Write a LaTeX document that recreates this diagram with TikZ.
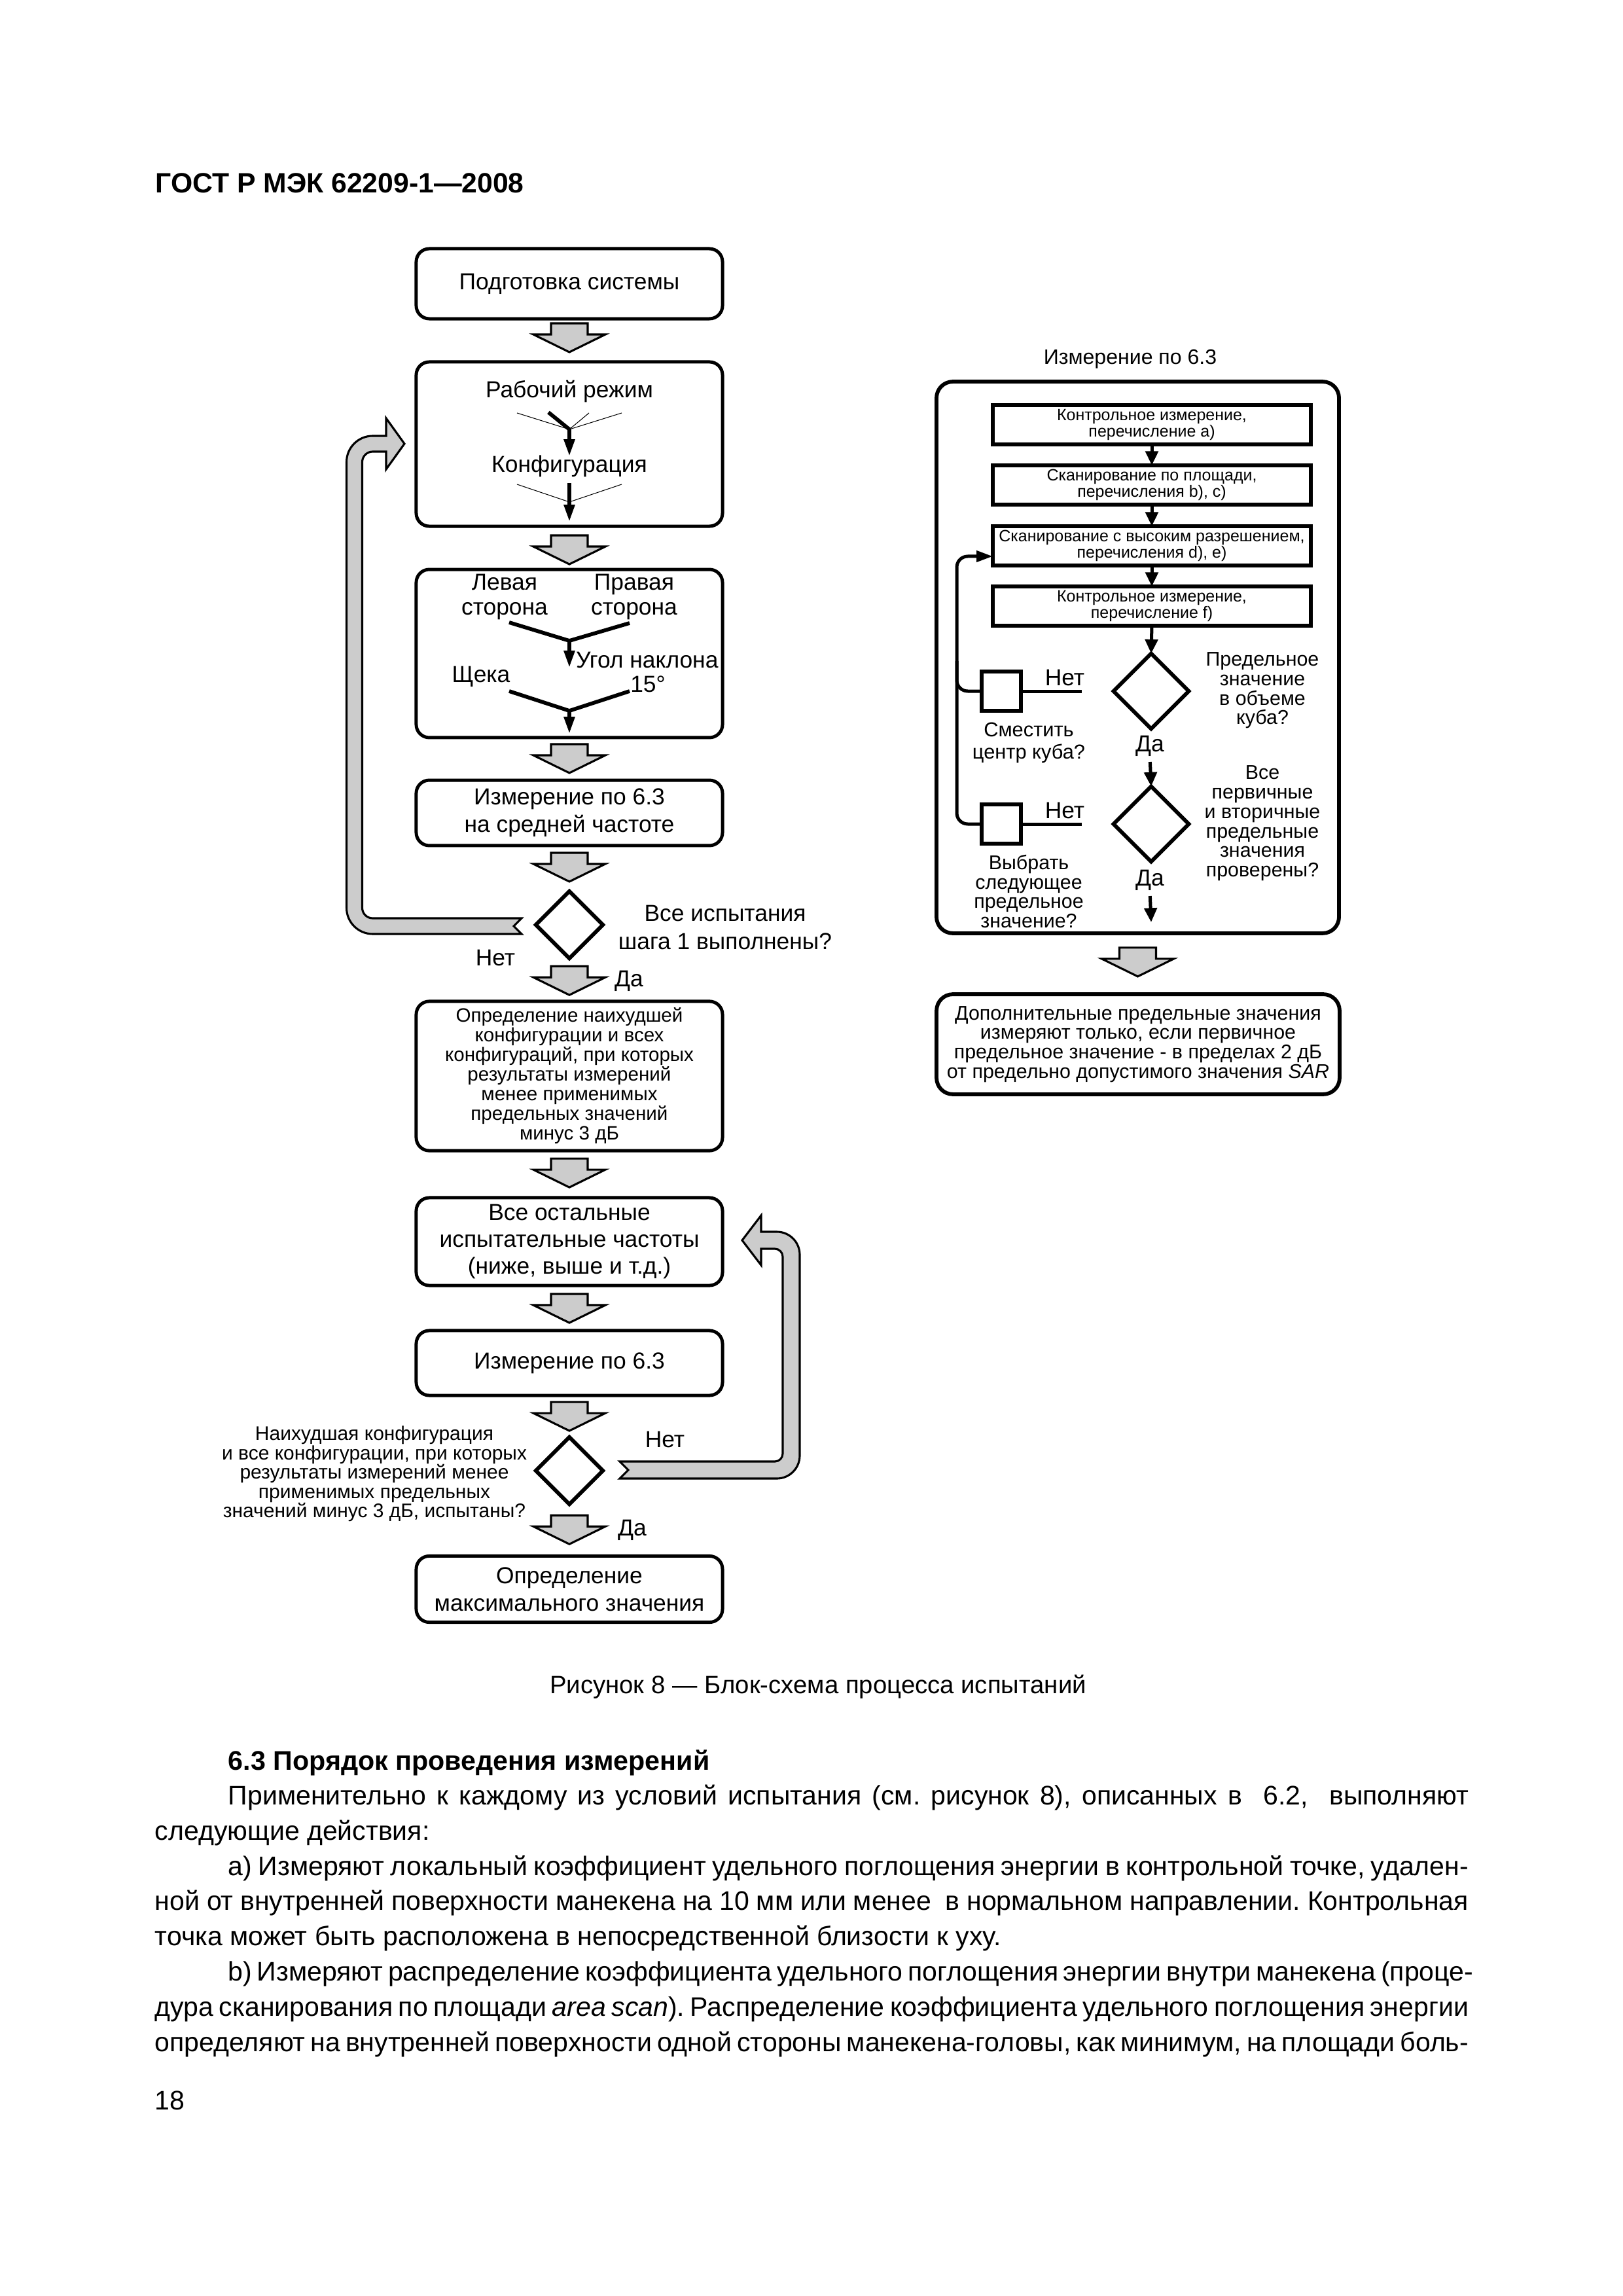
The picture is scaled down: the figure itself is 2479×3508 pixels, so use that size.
\documentclass[tikz,border=0pt]{standalone}
\usepackage{fontspec}
\setmainfont{Liberation Sans}
\usetikzlibrary{shapes.geometric,arrows.meta,calc}
\frenchspacing
\newcommand\FontMain{\fontsize{8.5pt}{10.1pt}\selectfont}
\newcommand\FontSmall{\fontsize{7.1pt}{7.2pt}\selectfont}
\newcommand\FontLbl{\fontsize{7.3pt}{7.15pt}\selectfont}
\newcommand\FontTiny{\fontsize{6.0pt}{6pt}\selectfont}
\newcommand\FontBody{\fontsize{9.85pt}{11.5pt}\selectfont}
\newcommand\fatarrow[1]{\filldraw[fat] #1 ++(-28,0) -- ++(0,17) -- ++(-27,0) -- ++(55,27) -- ++(55,-27) -- ++(-27,0) -- ++(0,-17) -- cycle;}
\begin{document}
\begin{tikzpicture}[x=0.24014pt,y=-0.24014pt,
  box/.style={draw,line width=1.2pt,rounded corners=4.8pt,minimum width=112.4pt,inner sep=0pt,outer sep=0pt,align=center,font=\FontMain},
  rbox/.style={draw,line width=1.4pt,rounded corners=6pt,inner sep=0pt,outer sep=0pt,align=center},
  srect/.style={draw,line width=1.4pt,minimum width=116.7pt,minimum height=14.4pt,inner sep=0pt,outer sep=0pt,align=center,font=\FontTiny},
  dia/.style={draw,diamond,line width=1.4pt,aspect=1,inner sep=0pt,outer sep=0pt},
  sq/.style={draw,line width=1.3pt,minimum width=14.4pt,minimum height=14.4pt,inner sep=0pt,outer sep=0pt},
  txt/.style={inner sep=0pt,outer sep=0pt,align=center},
  fat/.style={fill=black!20,draw=black,line width=0.75pt,line join=miter},
  thinln/.style={line width=0.25pt},
  thickln/.style={line width=1.4pt},
  thickarr/.style={line width=1.4pt,-{Triangle[length=6.2pt,width=3.8pt]}},
  smallarr/.style={line width=1.2pt,-{Triangle[length=5.2pt,width=4.6pt]}},
  ln/.style={line width=1.2pt},
  body/.style={anchor=base west,inner sep=0pt,font=\FontBody}]
\fill[white] (0,0) rectangle (2479,3508);
\useasboundingbox (0,0) rectangle (2479,3508);

% header
\node[anchor=base west,inner sep=0pt,font=\bfseries\fontsize{10.25pt}{12pt}\selectfont] (hdr) at (237,295) {ГОСТ Р МЭК 62209-1—2008};

% ---------------- left column ----------------
\node[box,minimum height=25.7pt] (b1) at (870,433.5) {Подготовка системы};
\fatarrow{($(b1.south)+(0,7)$)}

\node[box,minimum height=60.3pt] (b2) at (870,678.5) {};
\node[txt,font=\FontMain] (rr) at (870,598) {Рабочий режим};
\node[txt,font=\FontMain] (kf) at (870,712) {Конфигурация};
\coordinate (j1) at (870,656);
\coordinate (t1a) at (790,631); \coordinate (t1b) at (900,631); \coordinate (t1c) at (950,631);
\coordinate (k1) at (838,630); \coordinate (e1) at (870,697);
\draw[thinln] (t1a) -- (j1) -- (t1c); \draw[thinln] (t1b) -- (j1);
\draw[thickln] (k1) -- (j1);
\draw[thickarr] (j1) -- (e1);
\coordinate (j2) at (870,767);
\coordinate (t2a) at (790,740); \coordinate (t2c) at (950,740);
\coordinate (s2) at (870,738); \coordinate (e2) at (870,797);
\draw[thinln] (t2a) -- (j2) -- (t2c);
\draw[thickarr] (s2) -- (e2);
\fatarrow{($(b2.south)+(0,14)$)}

\node[box,minimum height=61.7pt] (b3) at (870,998.5) {};
\node[txt,font=\fontsize{8.5pt}{9.1pt}\selectfont] (lev) at (771,912) {Левая\\сторона};
\node[txt,font=\fontsize{8.5pt}{9.1pt}\selectfont] (prav) at (969,912) {Правая\\сторона};
\coordinate (v1a) at (778,951); \coordinate (v1) at (870,979); \coordinate (v1b) at (962,952); \coordinate (v1e) at (870,1020);
\draw[thickln,line join=miter] (v1a) -- (v1) -- (v1b);
\draw[thickarr] (v1) -- (v1e);
\node[txt,font=\FontMain,anchor=west] (ugol) at (880,1008) {Угол наклона};
\node[txt,font=\FontMain] (deg) at (990,1045) {15°};
\node[txt,font=\FontMain] (scheka) at (735,1034) {Щека};
\coordinate (v2a) at (778,1056); \coordinate (v2) at (870,1086); \coordinate (v2b) at (962,1056); \coordinate (v2e) at (870,1121);
\draw[thickln,line join=miter] (v2a) -- (v2) -- (v2b);
\draw[thickarr] (v2) -- (v2e);
\fatarrow{($(b3.south)+(0,10)$)}

\node[box,minimum height=24pt] (b4) at (870,1242) {Измерение по 6.3\\на средней частоте};
\fatarrow{($(b4.south)+(0,11)$)}

\node[dia,minimum width=24.6pt,minimum height=24.6pt] (d1) at (870,1413) {};
\node[txt,font=\fontsize{8.5pt}{10.3pt}\selectfont] (q1) at (1108,1417) {Все испытания\\шага 1 выполнены?};
\node[txt,font=\FontMain] (net1) at (757,1463) {Нет};
\fatarrow{($(d1.south)+(0,12)$)}
\node[txt,font=\FontMain] (da1) at (961,1499) {Да};

% left return arrow (Нет)
\filldraw[fat,line join=miter] (797,1403) [rounded corners=3.84pt] -- (553.5,1403) -- (553.5,690)
  [sharp corners] -- (590,690) -- (590,717) -- (618,678) -- (590,639) -- (590,666)
  [rounded corners=9.6pt] -- (529.5,666) -- (529.5,1427)
  [sharp corners] -- (797,1427) -- (785,1415) -- cycle;

\node[box,minimum height=54.8pt,font=\FontSmall] (b5) at (870,1644) {Определение наихудшей\\конфигурации и всех\\конфигураций, при которых\\результаты измерений\\менее применимых\\предельных значений\\минус 3 дБ};
\fatarrow{($(b5.south)+(0,12)$)}

\node[box,minimum height=32.2pt,font=\fontsize{8.5pt}{9.75pt}\selectfont] (b6) at (870,1897) {Все остальные\\испытательные частоты\\(ниже, выше и т.д.)};
\fatarrow{($(b6.south)+(0,13)$)}

\node[box,minimum height=23.8pt] (b7) at (870,2082.5) {Измерение по 6.3};
\fatarrow{($(b7.south)+(0,10)$)}

\node[dia,minimum width=24.6pt,minimum height=24.6pt] (d2) at (870,2247) {};
\node[txt,font=\fontsize{7.2pt}{7.1pt}\selectfont] (q2) at (572,2252) {Наихудшая конфигурация\\и все конфигурации, при которых\\результаты измерений менее\\применимых предельных\\значений минус 3 дБ, испытаны?};
\node[txt,font=\FontMain] (net2) at (1016,2199) {Нет};
\fatarrow{($(d2.south)+(0,17)$)}
\node[txt,font=\FontMain] (da2) at (966,2338) {Да};

% right return arrow (Нет)
\filldraw[fat,line join=miter] (947,2233) [rounded corners=2.9pt] -- (1196,2233) -- (1196,1908)
  [sharp corners] -- (1163,1908) -- (1163,1933) -- (1134,1895) -- (1163,1857) -- (1163,1882)
  [rounded corners=8.4pt] -- (1222,1882) -- (1222,2259)
  [sharp corners] -- (947,2259) -- (960,2246) -- cycle;

\node[box,minimum height=24.3pt] (b8) at (870,2428) {Определение\\максимального значения};

% ---------------- right column ----------------
\node[txt,font=\fontsize{7.7pt}{9pt}\selectfont] (obt) at (1727,549) {Измерение по 6.3};
\node[rbox,minimum width=147.7pt,minimum height=202.4pt] (ob) at (1738.5,1004.5) {};
\node[srect] (r1) at (1760,649) {Контрольное измерение,\\перечисление а)};
\node[srect] (r2) at (1760,741) {Сканирование по площади,\\перечисления b), c)};
\node[srect] (r3) at (1760,834) {Сканирование с высоким разрешением,\\перечисления d), e)};
\node[srect] (r4) at (1760,926) {Контрольное измерение,\\перечисление f)};
\draw[smallarr] (r1.south) -- (r2.north);
\draw[smallarr] (r2.south) -- (r3.north);
\draw[smallarr] (r3.south) -- (r4.north);

\node[dia,minimum width=27.6pt,minimum height=27.6pt] (dA) at (1759,1056) {};
\node[dia,minimum width=27.6pt,minimum height=27.6pt] (dB) at (1759,1259) {};
\draw[smallarr] (r4.south) -- (dA.north);
\node[txt,font=\FontMain] (daA) at (1757,1140) {Да};
\node[txt,font=\FontMain] (daB) at (1757,1345) {Да};
\draw[smallarr,shorten <=2pt] (daA.south) -- (dB.north);
\coordinate (endB) at (1759,1409);
\draw[smallarr,shorten <=2pt] (daB.south) -- (endB);

\node[txt,font=\FontLbl] (qA) at (1929,1055) {Предельное\\значение\\в объеме\\куба?};
\node[txt,font=\FontLbl] (qB) at (1929,1258) {Все\\первичные\\и вторичные\\предельные\\значения\\проверены?};

\node[sq] (sqA) at (1530,1056) {};
\node[sq] (sqB) at (1530,1259) {};
\coordinate (nA) at (1653,1056); \coordinate (nB) at (1653,1259);
\draw[ln] (sqA.east) -- (nA);
\draw[ln] (sqB.east) -- (nB);
\node[txt,font=\FontMain] (netA) at (1627,1035) {Нет};
\node[txt,font=\FontMain] (netB) at (1627,1238) {Нет};
\node[txt,font=\fontsize{7.4pt}{8.2pt}\selectfont] (smA) at (1572,1135) {Сместить\\центр куба?};
\node[txt,font=\FontLbl] (smB) at (1572,1362) {Выбрать\\следующее\\предельное\\значение?};
\coordinate (lpB) at (1462,1259); \coordinate (lpA) at (1462,1056); \coordinate (lpT) at (1462,850);
\draw[ln,rounded corners=4pt,-{Triangle[length=6pt,width=4pt]}] (sqB.west) -- (lpB) -- (lpT) -- ($(r3.west)+(0,16)$);
\draw[ln,rounded corners=4pt] (sqA.west) -- (lpA) -- (1462,1010);

\fatarrow{($(ob.south)+(0,22)$)}
\node[rbox,minimum width=147.9pt,minimum height=36.7pt,font=\FontLbl] (bb) at (1739,1595.5) {Дополнительные предельные значения\\измеряют только, если первичное\\предельное значение - в пределах 2 дБ\\от предельно допустимого значения \textit{SAR}};

% ---------------- caption and text ----------------
\node[anchor=base,inner sep=0pt,font=\fontsize{9.2pt}{11pt}\selectfont] (cap) at (1250,2587) {Рисунок 8 — Блок-схема процесса испытаний};
\node[anchor=base west,inner sep=0pt,font=\bfseries\fontsize{9.9pt}{11.5pt}\selectfont] (h63) at (348,2704) {6.3 Порядок проведения измерений};
\node[body] (p1) at (348,2757) {\makebox[455.1pt][s]{Применительно к каждому из условий испытания (см. рисунок 8), описанных в\ \ 6.2,\ \ выполняют}};
\node[body] (p2) at (236,2811) {следующие действия:};
\node[body] (p3) at (348,2865) {\makebox[455.1pt][s]{а) Измеряют локальный коэффициент удельного поглощения энергии в контрольной точке, удален-}};
\node[body] (p4) at (236,2918) {\makebox[482pt][s]{ной от внутренней поверхности манекена на 10 мм или менее\ \ в нормальном направлении. Контрольная}};
\node[body] (p5) at (236,2972) {точка может быть расположена в непосредственной близости к уху.};
\node[body] (p6) at (348,3026) {\makebox[455.1pt][s]{b) Измеряют распределение коэффициента удельного поглощения энергии внутри манекена (проце-}};
\node[body] (p7) at (236,3080) {\makebox[482pt][s]{дура сканирования по площади \textit{area scan}). Распределение коэффициента удельного поглощения энергии}};
\node[body] (p8) at (236,3134) {\makebox[482pt][s]{определяют на внутренней поверхности одной стороны манекена-головы, как минимум, на площади боль-}};
\node[body] (pg) at (236,3223) {18};
\end{tikzpicture}
\end{document}
